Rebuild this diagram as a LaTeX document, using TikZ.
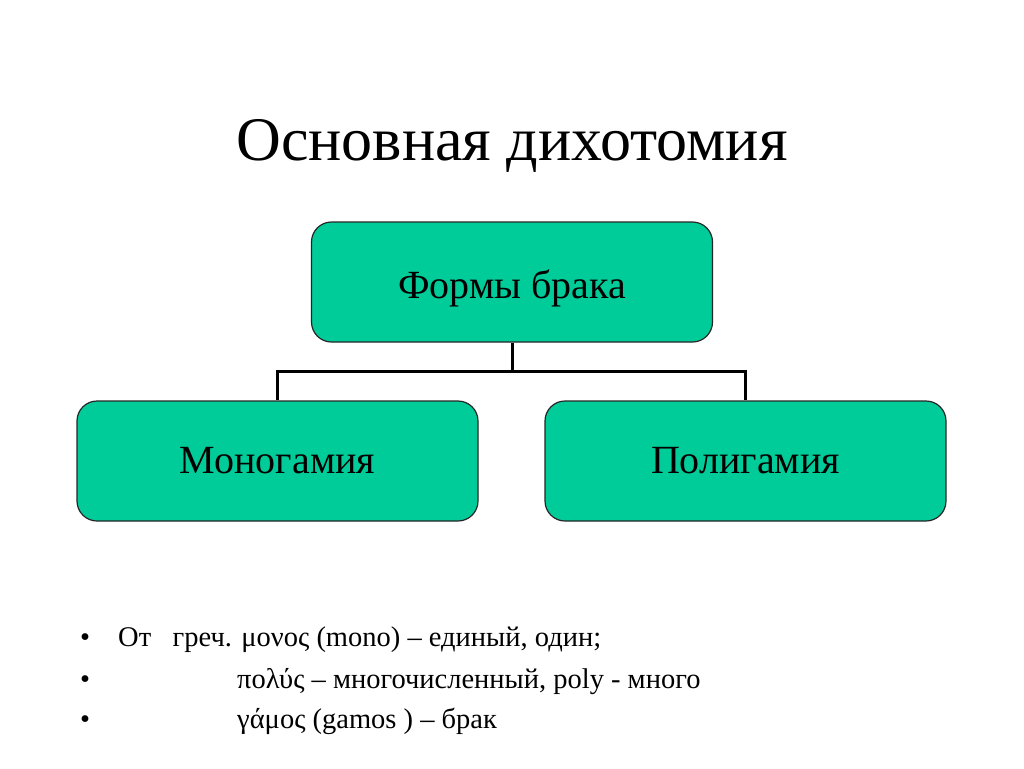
\documentclass[tikz,border=0pt]{standalone}
\usepackage{fontspec}
\setmainfont{Liberation Serif}
\usetikzlibrary{calc}
\begin{document}
\begin{tikzpicture}[x=1pt,y=-1pt,
  box/.style={draw=black!85,line width=1.2pt,fill=boxgreen,rounded corners=20pt,
    minimum width=401pt,minimum height=120pt,inner sep=0pt,
    font=\fontsize{40}{46}\selectfont},
  conn/.style={line width=3pt},
  bul/.style={anchor=base west,inner sep=0pt,font=\fontsize{28.5}{33}\selectfont}]
\definecolor{boxgreen}{HTML}{00CC99}
\useasboundingbox[fill=white] (0,0) rectangle (1024,768);
\node[anchor=base,inner sep=0pt,font=\fontsize{62}{70}\selectfont] (title) at (512,160) {Основная дихотомия};
\node[box,text depth=0pt] (top) at (512,282) {\raisebox{-5pt}{Формы брака}};
\node[box] (left) at (277.5,461) {\raisebox{-5pt}{Моногамия}};
\node[box] (right) at (745.5,461) {\raisebox{-5pt}{Полигамия}};
\coordinate (j) at ($(top.south)+(0,29)$);
\draw[conn] (top.south) -- (j) -| (left.north);
\draw[conn] (j) -| (right.north);
\node[bul] (b1) at (80,646) {•};
\node[bul] (b2) at (80,688) {•};
\node[bul] (b3) at (80,728) {•};
\node[bul] (t1) at (118,646) {От\hspace{0.75em}греч. μονος (mono) – единый, один;};
\node[bul] (t2) at (237,688) {πολύς – многочисленный, poly - много};
\node[bul] (t3) at (237,728) {γάμος (gamos ) – брак};
\end{tikzpicture}
\end{document}
